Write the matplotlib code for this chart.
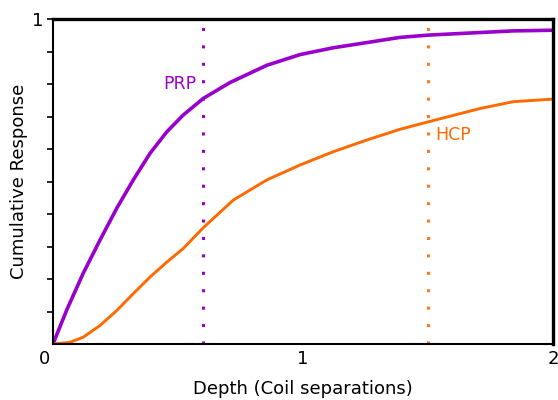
import numpy as np
import matplotlib
matplotlib.use("Agg")
from matplotlib import pyplot as plt

# Cumulative response vs depth
prp_depth = [0.0, 0.055, 0.121, 0.188, 0.255, 0.321, 0.388, 0.455, 0.521, 0.601,
             0.708, 0.855, 0.988, 1.121, 1.255, 1.388, 1.501, 1.708, 1.841, 2.0]
prp_resp = [0.0, 0.105, 0.218, 0.320, 0.418, 0.505, 0.587, 0.653, 0.705, 0.756,
            0.805, 0.858, 0.891, 0.912, 0.928, 0.944, 0.951, 0.959, 0.964, 0.966]

hcp_depth = [0.0, 0.067, 0.121, 0.188, 0.255, 0.321, 0.388, 0.455, 0.521, 0.601,
             0.721, 0.855, 0.988, 1.121, 1.255, 1.388, 1.501, 1.708, 1.841, 2.0]
hcp_resp = [0.0, 0.005, 0.021, 0.057, 0.103, 0.155, 0.206, 0.252, 0.294, 0.358,
            0.443, 0.505, 0.551, 0.592, 0.628, 0.661, 0.684, 0.725, 0.746, 0.754]

prp_marker = 0.6
hcp_marker = 1.5

PURPLE = '#9900cc'
ORANGE = '#ff6a00'

plt.rcParams['font.family'] = ['DejaVu Sans']
fig = plt.figure(figsize=(5.58, 4.0), dpi=100)
ax = fig.add_axes([0.095, 0.14, 0.896, 0.812])

ax.plot(prp_depth, prp_resp, color=PURPLE, lw=2.6, solid_capstyle='butt')
ax.plot(hcp_depth, hcp_resp, color=ORANGE, lw=2.1, solid_capstyle='butt')

ax.axvline(prp_marker, 0.0, 0.975, color=PURPLE, lw=2.2, ls=(0, (1.0, 4.7)))
ax.axvline(hcp_marker, 0.0, 0.975, color='#ff7722', lw=2.2, ls=(0, (1.0, 4.7)))

ax.text(0.575, 0.80, 'PRP', color=PURPLE, fontsize=12.5, ha='right', va='center')
ax.text(1.53, 0.645, 'HCP', color=ORANGE, fontsize=12.5, ha='left', va='center')

ax.set_xlim(0, 2)
ax.set_ylim(0, 1)
ax.set_xticks([1, 2])
ax.set_xticklabels(['1', '2'], fontsize=13)
ax.set_yticks(np.arange(0.1, 1.01, 0.1))
ax.set_yticklabels([''] * 9 + ['1'], fontsize=13)
ax.tick_params(axis='x', length=0, pad=4)
ax.tick_params(axis='y', length=4, width=1.2, direction='out', pad=3)
ax.text(-0.035, -0.02, '0', fontsize=13, ha='center', va='top',
        transform=ax.transData)

for side in ['left', 'bottom']:
    ax.spines[side].set_linewidth(1.5)
for side in ['top', 'right']:
    ax.spines[side].set_linewidth(2.4)

ax.set_xlabel('Depth (Coil separations)', fontsize=13, labelpad=9)
ax.set_ylabel('Cumulative Response', fontsize=13, labelpad=3)

fig.savefig('out.png', dpi=100)
